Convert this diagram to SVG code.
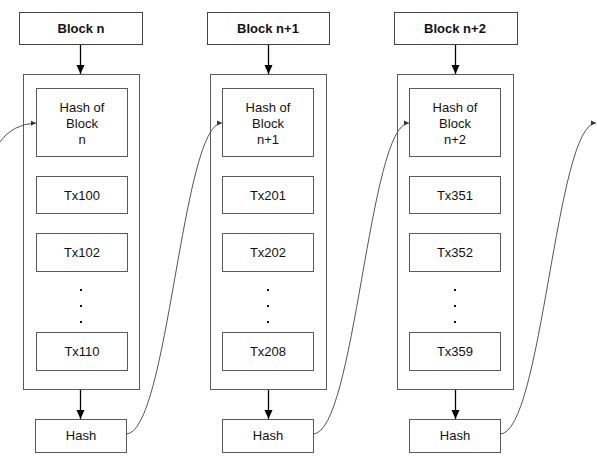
<svg xmlns="http://www.w3.org/2000/svg" width="597" height="471" viewBox="0 0 597 471">
<defs>
<style>
.box{fill:#fff;stroke:#5a5a5a;stroke-width:1}
.hdr{fill:#fff;stroke:#444;stroke-width:1}
.t{font-family:"Liberation Sans",Arial,sans-serif;font-size:13px;fill:#111;text-anchor:middle}
.b{font-weight:bold}
.down{stroke:#000;stroke-width:1.3;fill:none}
.link{stroke:#555;stroke-width:1;fill:none}
.dot{fill:#111}
</style>
<marker id="ah" markerWidth="10" markerHeight="10" refX="9" refY="5" orient="auto" markerUnits="userSpaceOnUse">
<path d="M0,1 L9,5 L0,9 Z" fill="#000"/>
</marker>
<marker id="sh" markerWidth="6" markerHeight="6" refX="5" refY="3" orient="auto" markerUnits="userSpaceOnUse">
<path d="M0,0.5 L5,3 L0,5.5 Z" fill="#333"/>
</marker>
</defs>
<rect width="597" height="471" fill="#fff"/>

<g id="block-n">
<rect class="hdr" x="19.5" y="12.5" width="123" height="32"/>
<text class="t b" x="81" y="33">Block n</text>
<rect class="box" x="23.5" y="74.5" width="116" height="315"/>
<rect class="box" x="36.5" y="88.5" width="91" height="68"/>
<text class="t" x="82" y="112">Hash of</text>
<text class="t" x="82" y="128">Block</text>
<text class="t" x="82" y="144">n</text>
<rect class="box" x="36.5" y="176.5" width="91" height="37"/>
<text class="t" x="82" y="200">Tx100</text>
<rect class="box" x="36.5" y="233.5" width="91" height="38"/>
<text class="t" x="82" y="257">Tx102</text>
<rect class="dot" x="80" y="289" width="2" height="2"/>
<rect class="dot" x="80" y="305" width="2" height="2"/>
<rect class="dot" x="80" y="321" width="2" height="2"/>
<rect class="box" x="36.5" y="332.5" width="91" height="38"/>
<text class="t" x="82" y="356">Tx110</text>
<rect class="box" x="35.5" y="419.5" width="91" height="33"/>
<text class="t" x="81" y="440">Hash</text>
</g>

<g id="block-n1">
<rect class="hdr" x="207.5" y="12.5" width="122" height="32"/>
<text class="t b" x="268" y="33">Block n+1</text>
<rect class="box" x="210.5" y="74.5" width="116" height="315"/>
<rect class="box" x="222.5" y="88.5" width="91" height="68"/>
<text class="t" x="268" y="112">Hash of</text>
<text class="t" x="268" y="128">Block</text>
<text class="t" x="268" y="144">n+1</text>
<rect class="box" x="222.5" y="176.5" width="91" height="37"/>
<text class="t" x="268" y="200">Tx201</text>
<rect class="box" x="222.5" y="233.5" width="91" height="38"/>
<text class="t" x="268" y="257">Tx202</text>
<rect class="dot" x="267" y="289" width="2" height="2"/>
<rect class="dot" x="267" y="305" width="2" height="2"/>
<rect class="dot" x="267" y="321" width="2" height="2"/>
<rect class="box" x="222.5" y="332.5" width="91" height="38"/>
<text class="t" x="268" y="356">Tx208</text>
<rect class="box" x="222.5" y="419.5" width="91" height="33"/>
<text class="t" x="268" y="440">Hash</text>
</g>

<g id="block-n2">
<rect class="hdr" x="394.5" y="12.5" width="123" height="32"/>
<text class="t b" x="455" y="33">Block n+2</text>
<rect class="box" x="397.5" y="74.5" width="116" height="315"/>
<rect class="box" x="409.5" y="88.5" width="91" height="68"/>
<text class="t" x="455" y="112">Hash of</text>
<text class="t" x="455" y="128">Block</text>
<text class="t" x="455" y="144">n+2</text>
<rect class="box" x="409.5" y="176.5" width="91" height="37"/>
<text class="t" x="455" y="200">Tx351</text>
<rect class="box" x="409.5" y="233.5" width="91" height="38"/>
<text class="t" x="455" y="257">Tx352</text>
<rect class="dot" x="454" y="289" width="2" height="2"/>
<rect class="dot" x="454" y="305" width="2" height="2"/>
<rect class="dot" x="454" y="321" width="2" height="2"/>
<rect class="box" x="409.5" y="332.5" width="91" height="38"/>
<text class="t" x="455" y="356">Tx359</text>
<rect class="box" x="409.5" y="419.5" width="91" height="33"/>
<text class="t" x="455" y="440">Hash</text>
</g>

<g id="connectors">
<line class="down" x1="80.5" y1="45" x2="80.5" y2="74" marker-end="url(#ah)"/>
<line class="down" x1="80.5" y1="390" x2="80.5" y2="419" marker-end="url(#ah)"/>
<line class="down" x1="268.5" y1="45" x2="268.5" y2="74" marker-end="url(#ah)"/>
<line class="down" x1="268.5" y1="390" x2="268.5" y2="419" marker-end="url(#ah)"/>
<line class="down" x1="455.5" y1="45" x2="455.5" y2="74" marker-end="url(#ah)"/>
<line class="down" x1="455.5" y1="390" x2="455.5" y2="419" marker-end="url(#ah)"/>
<path class="link" d="M-1,143 Q12,124 36,123" marker-end="url(#sh)"/>
<path class="link" d="M126,434 C168,434 182,123 222,123" marker-end="url(#sh)"/>
<path class="link" d="M313,434 C355,434 369,123 409,123" marker-end="url(#sh)"/>
<path class="link" d="M500,434 C542,434 556,123 596,123" marker-end="url(#sh)"/>
</g>
</svg>
